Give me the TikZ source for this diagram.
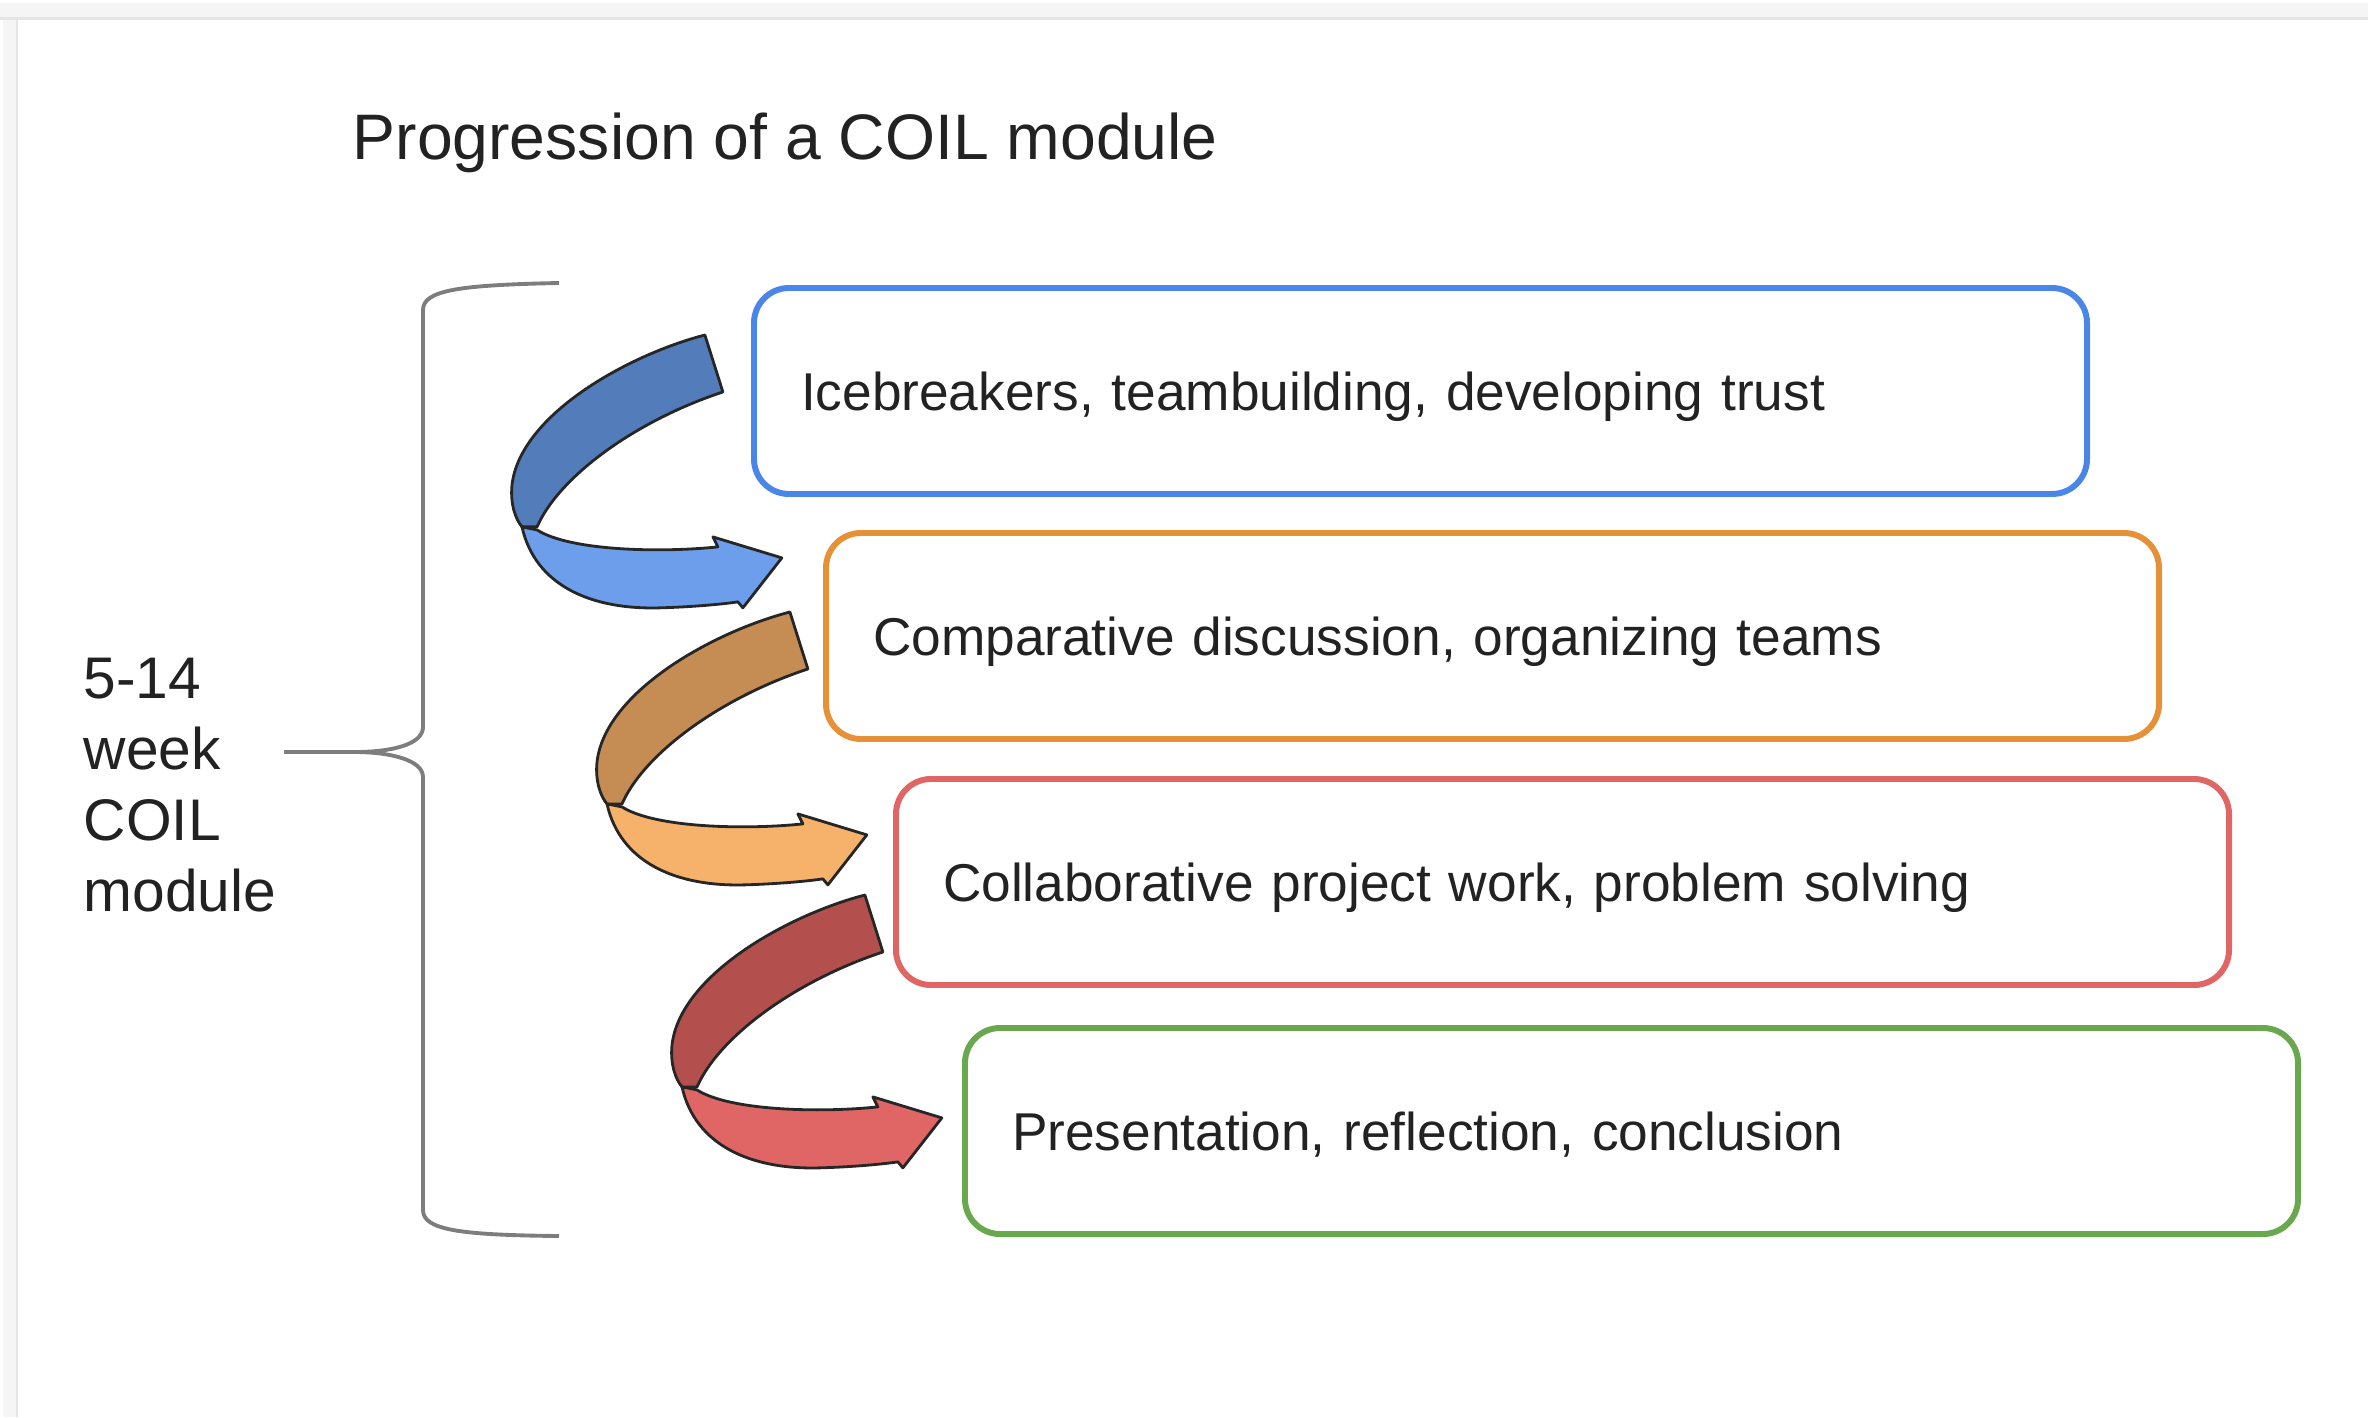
\documentclass[tikz,border=0pt]{standalone}
\usepackage{fontspec}
\setmainfont{Liberation Sans}
\definecolor{coilblue}{HTML}{4A86E8}
\definecolor{coilorange}{HTML}{E69138}
\definecolor{coilred}{HTML}{E06666}
\definecolor{coilgreen}{HTML}{6AA84F}
\definecolor{blueback}{RGB}{83,124,186}
\definecolor{bluefront}{HTML}{6D9EEB}
\definecolor{orangeback}{RGB}{197,141,84}
\definecolor{orangefront}{HTML}{F6B26B}
\definecolor{redback}{RGB}{179,80,77}
\definecolor{redfront}{HTML}{E06666}
\definecolor{bracegray}{RGB}{125,125,125}
\definecolor{inktext}{RGB}{34,34,34}

\tikzset{
  pics/uturn/.style 2 args={code={
    \begin{scope}[x=0.01cm,y=-0.01cm,draw=black!85,line width=0.8pt,line join=round]
      \filldraw[fill=#1] (195,0) .. controls (118,20) and (10,80) .. (2,150) .. controls (0,170) and (6,185) .. (12,192) -- (27,192) .. controls (50,140) and (128,85) .. (213,57) -- cycle;
      \filldraw[fill=#2] (12,192) .. controls (25,250) and (80,275) .. (150,273) .. controls (185,272) and (215,269) .. (228,267) -- (233,273) -- (272,223) -- (203,202) -- (208,212) .. controls (150,218) and (60,216) .. (27,195) -- cycle;
    \end{scope}}}
}

\begin{document}
\begin{tikzpicture}[
    stage/.style={draw=#1, line width=1.7pt, rounded corners=0.35cm, anchor=north west,
      minimum width=13.33cm, minimum height=2.06cm, text width=12.39cm, inner xsep=0.47cm,
      align=left, text depth=0pt, font=\fontsize{15.15}{18}\selectfont, text=inktext},
    bracket/.style={draw=bracegray, line width=1.1pt},
  ]
\useasboundingbox (0,0) rectangle (23.68,-14.17);
% card edge
\fill[black!4] (0,-0.03) rectangle (23.68,-0.2);
\fill[black!4] (0.03,-0.03) rectangle (0.18,-14.17);
\fill[black!10] (0,-0.17) rectangle (23.68,-0.2);
\fill[black!10] (0.16,-0.2) rectangle (0.18,-14.17);

\node[anchor=base west, inner sep=0, font=\fontsize{18.3}{22}\selectfont, text=inktext] (title) at (3.52,-1.59) {Progression of a COIL module};

\node[stage=coilblue] (ice) at (7.51,-2.85) {Icebreakers, teambuilding, developing trust};
\node[stage=coilorange] (comp) at (8.23,-5.30) {Comparative discussion, organizing teams};
\node[stage=coilred] (proj) at (8.93,-7.76) {Collaborative project work, problem solving};
\node[stage=coilgreen] (pres) at (9.62,-10.25) {Presentation, reflection, conclusion};

\pic at (5.10,-3.35) {uturn={blueback}{bluefront}};
\pic at (5.95,-6.12) {uturn={orangeback}{orangefront}};
\pic at (6.70,-8.95) {uturn={redback}{redfront}};

% brace
\coordinate (brtop) at (5.59,-2.83);
\coordinate (brtip) at (2.84,-7.52);
\coordinate (brbot) at (5.59,-12.36);
\draw[bracket] (brtop) .. controls (4.6,-2.85) and (4.23,-2.9) .. (4.23,-3.1) -- (4.23,-7.27) .. controls (4.23,-7.45) and (3.9,-7.52) .. (3.55,-7.52) -- (brtip) -- (3.55,-7.52) .. controls (3.9,-7.52) and (4.23,-7.6) .. (4.23,-7.77) -- (4.23,-12.1) .. controls (4.23,-12.3) and (4.6,-12.35) .. (brbot);

\node[anchor=west, inner sep=0, align=left, font=\fontsize{16.7}{20.2}\selectfont, text=inktext] (span) at (0.83,-7.85) {5-14\\week\\COIL\\module};

\end{tikzpicture}
\end{document}
